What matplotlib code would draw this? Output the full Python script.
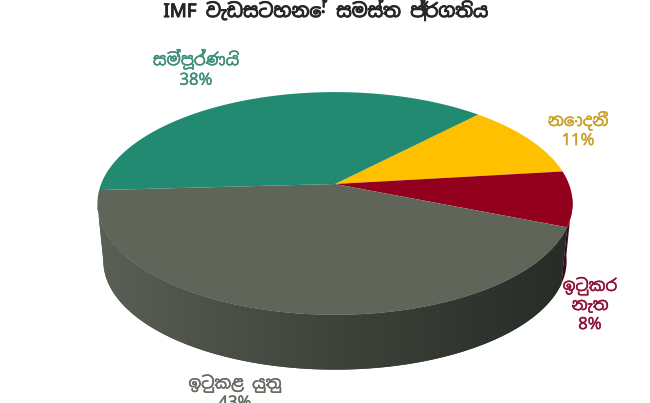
import numpy as np
import matplotlib
matplotlib.use("Agg")
import matplotlib.pyplot as plt
import matplotlib.patheffects as pe
from matplotlib.colors import LinearSegmentedColormap

# data, clockwise from the green/gold edge
labels = ["නොදනී", "ඉටුකර\nනැත", "ඉටුකළ යුතු", "සම්පූර්ණයි"]
values = [11, 8, 43, 38]
colors = ["#FFC000", "#93001E", "#5F6659", "#218A71"]
text_colors = ["#C9A227", "#8E1236", "#666B62", "#3C8F79"]
label_pos = [(578, 130), (590, 305), (235, 393), (196, 69)]
title = "IMF වැඩසටහනේ සමස්ත ප්‍රගතිය"

# pie geometry in pixels (perspective view of a circle)
cx, top_y, low_y = 335, 184, 242
A, B, k = 233.9, 108, 0.175
start = 43.6
low_scale = 0.975


def rim(deg, y0=top_y, s=1.0):
    t = np.radians(deg)
    u, v = np.sin(t), np.cos(t)
    return cx + s * A * u / (1 + k * v), y0 - s * B * v / (1 + k * v)


fig = plt.figure(figsize=(6.5, 4.03), dpi=100)
ax = fig.add_axes([0, 0, 1, 1])

edges = start + np.cumsum([0] + values) * 3.6

# side wall, only the front part shows
t = np.linspace(edges[1] + 14, edges[2], 25)
x0, y0 = rim(t)
x1, y1 = rim(t, low_y, low_scale)
ax.fill(np.r_[x0, x1[::-1]], np.r_[y0, y1[::-1]], color="#3D0A14", lw=0, zorder=1)

wall_cmap = LinearSegmentedColormap.from_list("wall", ["#5A6056", "#3F433B", "#262C27"])
# the wall stops where the rim is widest on the left
t = np.linspace(edges[2], edges[3] - 7, 300)
x0, y0 = rim(t)
x1, y1 = rim(t, low_y, low_scale)
wall = ax.fill(np.r_[x0, x1[::-1]], np.r_[y0, y1[::-1]], color="#3F433B", lw=0, zorder=1)[0]
grad = ax.imshow(np.linspace(0, 1, 256)[None, :], cmap=wall_cmap, aspect="auto", zorder=2,
                 extent=[x0.min(), x0.max(), y1.max(), y0.min()], interpolation="bilinear")
grad.set_clip_path(wall)

# top face
for i, c in enumerate(colors):
    t = np.linspace(edges[i], edges[i + 1], 120)
    x, y = rim(t)
    ax.fill(np.r_[cx, x], np.r_[top_y, y], color=c, lw=0, zorder=3)

ax.set_xlim(0, 650)
ax.set_ylim(403, 0)
ax.axis("off")

font = ["Noto Sans Sinhala", "Noto Sans", "DejaVu Sans"]
for name, val, c, (px, py) in zip(labels, values, text_colors, label_pos):
    ax.text(px, py, f"{name}\n{val}%", color=c, fontsize=12, fontweight="semibold",
            ha="center", va="center", family=font, linespacing=1.25,
            path_effects=[pe.withStroke(linewidth=0.3, foreground=c)])
ax.text(326, 10, title, fontsize=13.5, fontweight="bold", color="#262626",
        ha="center", va="center", family=font,
        path_effects=[pe.withStroke(linewidth=0.7, foreground="#262626")])

fig.savefig("out.png", dpi=100)
